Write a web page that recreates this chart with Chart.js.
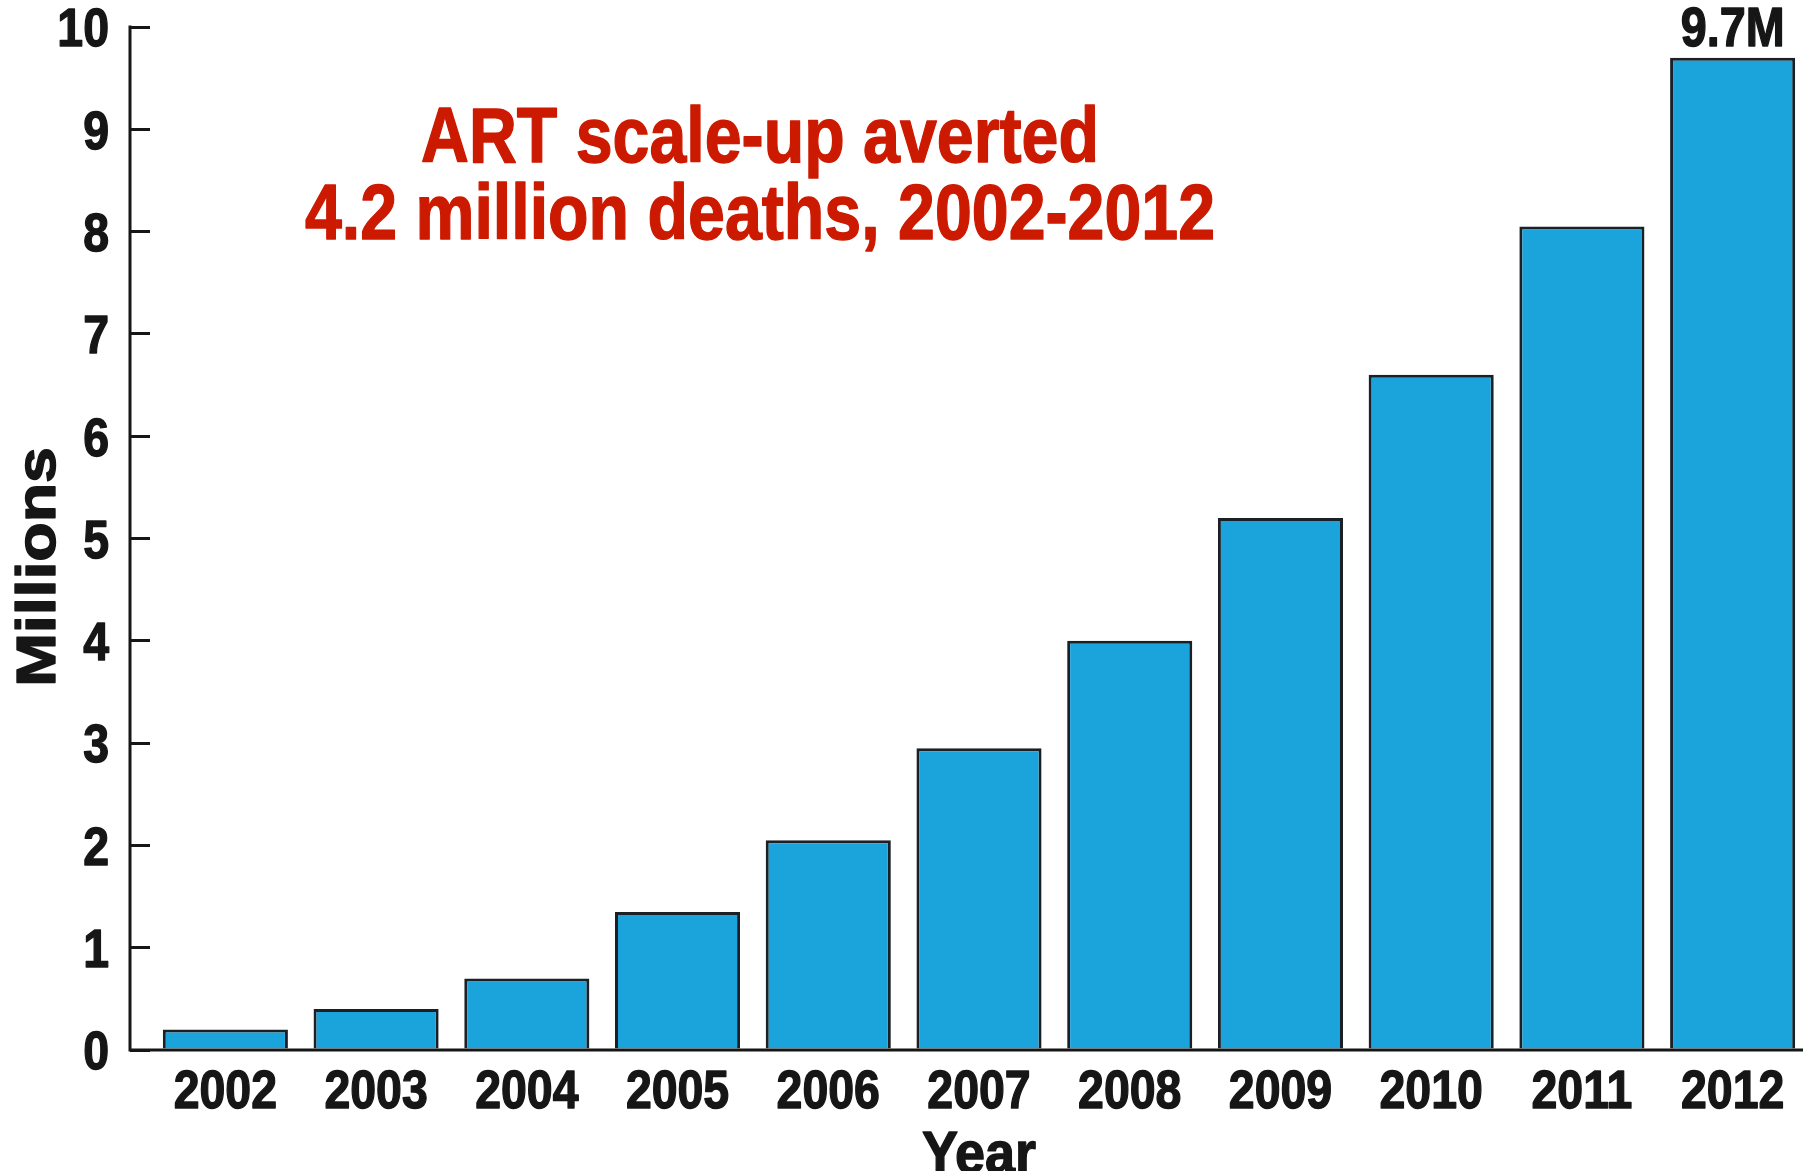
<!DOCTYPE html>
<html>
<head>
<meta charset="utf-8">
<title>ART scale-up averted deaths</title>
<script src="https://cdn.jsdelivr.net/npm/chart.js@4/dist/chart.umd.min.js"></script>
<style>
  html, body { margin: 0; padding: 0; background: #fff; }
  #wrap { width: 1810px; height: 1171px; position: relative; }
</style>
</head>
<body>
<div id="wrap"><canvas id="chart"></canvas></div>
<script>
const years = ['2002', '2003', '2004', '2005', '2006', '2007', '2008', '2009', '2010', '2011', '2012'];
const deathsAverted = [0.2, 0.4, 0.7, 1.35, 2.05, 2.95, 4.0, 5.2, 6.6, 8.05, 9.7];
const labelledYears = ['2012'];
const headline = ['ART scale-up averted', '4.2 million deaths, 2002-2012'];

const FONT = "'Liberation Sans', Arial, Helvetica, sans-serif";
const INK = '#161616';
const TICK_LEN = 20;
const CAP = 0.716; // cap height / em for Liberation Sans Bold

// text squeezed (or stretched) horizontally to imitate a condensed face,
// with a thin outline in the fill colour to make it a bit heavier
function drawText(ctx, text, x, y, size, sx, align) {
  ctx.save();
  ctx.font = `bold ${size}px ${FONT}`;
  ctx.textAlign = align || 'center';
  ctx.textBaseline = 'alphabetic';
  ctx.translate(x, y);
  ctx.scale(sx, 1);
  ctx.strokeStyle = ctx.fillStyle;
  ctx.lineWidth = 1.4;
  ctx.lineJoin = 'round';
  ctx.fillText(text, 0, 0);
  ctx.strokeText(text, 0, 0);
  ctx.restore();
}

// Axis lines, tick labels, headline, axis titles and the value tag on the last bar
const decorations = {
  id: 'decorations',
  afterDraw(chart) {
    const { ctx, chartArea } = chart;
    const xs = chart.scales.x;
    const ys = chart.scales.y;
    const axisX = chartArea.left - TICK_LEN;

    ctx.save();
    ctx.strokeStyle = INK;
    ctx.lineWidth = 3;
    ctx.beginPath();
    ctx.moveTo(axisX, ys.getPixelForValue(ys.max) - 1.5);
    ctx.lineTo(axisX, chartArea.bottom);
    ctx.lineTo(chartArea.right - 5, chartArea.bottom);
    ctx.stroke();

    ctx.fillStyle = INK;
    const tickSize = 54;

    // y tick labels
    ys.ticks.forEach((t, i) => {
      const py = ys.getPixelForTick(i);
      drawText(ctx, String(t.value), axisX - 21, py + tickSize * CAP / 2, tickSize, 0.86, 'right');
    });

    // x tick labels
    years.forEach((yr, i) => {
      drawText(ctx, yr, xs.getPixelForTick(i), chartArea.bottom + 58, tickSize, 0.86);
    });

    // value tags
    const meta = chart.getDatasetMeta(0);
    labelledYears.forEach(yr => {
      const i = years.indexOf(yr);
      const bar = meta.data[i];
      drawText(ctx, `${deathsAverted[i]}M`, bar.x, bar.y - 12, 55, 0.85);
    });

    // axis titles
    drawText(ctx, 'Year', (chartArea.left + chartArea.right) / 2, 1173, 60, 0.9);

    ctx.translate(55, 567);
    ctx.rotate(-Math.PI / 2);
    drawText(ctx, 'Millions', 0, 0, 56, 1.15);
    ctx.restore();

    // headline
    ctx.save();
    ctx.fillStyle = '#CC1A00';
    drawText(ctx, headline[0], 760, 162, 78, 0.85);
    drawText(ctx, headline[1], 760, 239, 78, 0.85);
    ctx.restore();
  }
};

const ctx = document.getElementById('chart');
new Chart(ctx, {
  type: 'bar',
  data: {
    labels: years,
    datasets: [{
      data: deathsAverted,
      backgroundColor: '#1BA3DB',
      borderColor: '#1a2026',
      borderWidth: 3,
      borderSkipped: 'bottom',
      barPercentage: 0.83,
      categoryPercentage: 1
    }]
  },
  options: {
    responsive: true,
    maintainAspectRatio: false,
    animation: false,
    layout: { padding: { top: 27, right: 2, left: 0, bottom: 0 } },
    plugins: {
      legend: { display: false },
      tooltip: { enabled: false }
    },
    scales: {
      x: {
        offset: true,
        grid: { display: false },
        border: { display: false },
        ticks: { display: false },
        afterFit(scale) { scale.height = 121; }
      },
      y: {
        min: 0,
        max: 10,
        grid: {
          display: true,
          drawOnChartArea: false,
          drawTicks: true,
          tickLength: TICK_LEN,
          color: INK,
          lineWidth: 3
        },
        border: { display: false },
        ticks: { display: false, stepSize: 1 },
        afterFit(scale) { scale.width = 150; }
      }
    }
  },
  plugins: [decorations]
});
</script>
</body>
</html>
